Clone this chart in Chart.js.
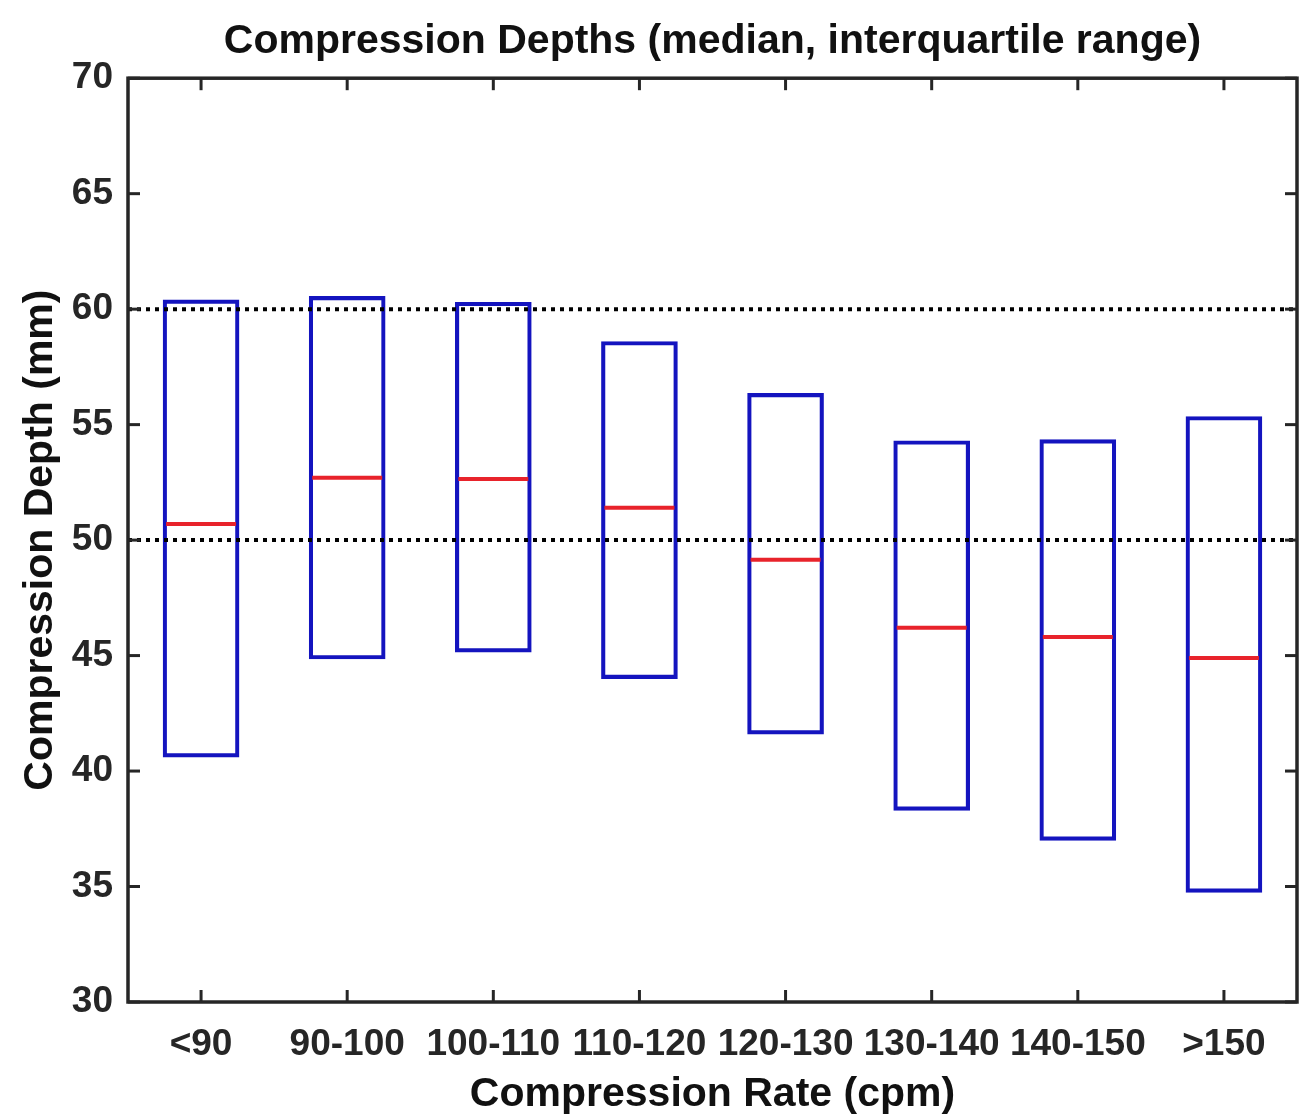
<!DOCTYPE html>
<html>
<head>
<meta charset="utf-8">
<script src="https://cdn.jsdelivr.net/npm/chart.js@4.4.0/dist/chart.umd.min.js"></script>
<style>
  html, body { margin: 0; padding: 0; background: #fff; }
  #caixa { width: 1305px; height: 1115px; }
</style>
</head>
<body>
<div id="caixa"><canvas id="graficoBox"></canvas></div>
<script>
// Dados
const categorias = ['<90', '90-100', '100-110', '110-120', '120-130', '130-140', '140-150', '>150'];
const quartil1 = [40.6, 44.85, 45.15, 44.0, 41.6, 38.3, 37.0, 34.75];
const quartil3 = [60.4, 60.55, 60.3, 58.6, 56.35, 54.3, 54.35, 55.35];
const medianas = [50.7, 52.7, 52.65, 51.4, 49.15, 46.2, 45.8, 44.9];
const linhasRef = [50, 60];
const eixoY = { min: 30, max: 70, passo: 5 };

const corEixo = '#262626';

// moldura estilo MATLAB: caixa fechada, ticks para dentro e linhas pontilhadas
const molduraMatlab = {
    id: 'molduraMatlab',
    afterDatasetsDraw(chart) {
        const { ctx, chartArea: a, scales: { x, y } } = chart;
        const linha = (x1, y1, x2, y2) => {
            ctx.beginPath();
            ctx.moveTo(x1, y1);
            ctx.lineTo(x2, y2);
            ctx.stroke();
        };
        ctx.save();

        ctx.strokeStyle = '#000';
        ctx.lineWidth = 4;
        ctx.setLineDash([4, 5]);
        linhasRef.forEach(v => {
            const py = y.getPixelForValue(v);
            linha(a.left, py, a.right, py);
        });
        ctx.setLineDash([]);

        ctx.strokeStyle = corEixo;
        ctx.lineWidth = 3;
        y.ticks.forEach((t, i) => {
            const py = y.getPixelForTick(i);
            linha(a.left, py, a.left + 12, py);
            linha(a.right, py, a.right - 12, py);
        });
        x.ticks.forEach((t, i) => {
            const px = x.getPixelForTick(i);
            linha(px, a.bottom, px, a.bottom - 12);
            linha(px, a.top, px, a.top + 12);
        });

        ctx.lineWidth = 3.5;
        ctx.strokeRect(a.left, a.top, a.right - a.left, a.bottom - a.top);
        ctx.restore();
    }
};

const ctxBox = document.getElementById('graficoBox');

new Chart(ctxBox, {
    type: 'bar',
    data: {
        labels: categorias,
        datasets: [
            {
                type: 'line',
                label: 'Mediana',
                data: medianas,
                showLine: false,
                pointStyle: 'line',
                pointRadius: 35,
                pointHoverRadius: 35,
                pointBorderWidth: 4,
                pointBorderColor: '#e8232b',
                borderColor: '#e8232b'
            },
            {
                label: 'IQR',
                data: quartil1.map((q, i) => [q, quartil3[i]]),
                backgroundColor: 'transparent',
                borderColor: '#1414bf',
                borderWidth: 3.5,
                borderSkipped: false,
                barThickness: 76
            }
        ]
    },
    options: {
        responsive: true,
        maintainAspectRatio: false,
        animation: false,
        events: [],
        // sem autoPadding, senão o raio dos pontos empurra a borda direita
        layout: { autoPadding: false, padding: { left: 0, right: 8, top: 0, bottom: 0 } },
        plugins: {
            legend: { display: false },
            tooltip: { enabled: false },
            title: {
                display: true,
                text: 'Compression Depths (median, interquartile range)',
                fullSize: false,
                color: '#111',
                font: { family: 'Liberation Sans', size: 41, weight: 'bold', lineHeight: 1.2 },
                padding: { top: 17, bottom: 12 }
            }
        },
        scales: {
            x: {
                type: 'category',
                offset: true,
                grid: { display: false, drawTicks: false },
                border: { display: false },
                ticks: {
                    color: corEixo,
                    padding: 21,
                    maxRotation: 0,
                    autoSkip: false,
                    font: { family: 'Liberation Sans', size: 37, weight: 'bold' }
                },
                title: {
                    display: true,
                    text: 'Compression Rate (cpm)',
                    color: '#111',
                    font: { family: 'Liberation Sans', size: 41, weight: 'bold', lineHeight: 1 },
                    padding: { top: 0, bottom: 0 }
                },
                afterFit: s => {
                    s.height = 113;
                    s.paddingLeft = 0;
                    s.paddingRight = 0;
                }
            },
            y: {
                min: eixoY.min,
                max: eixoY.max,
                grid: { display: false, drawTicks: false },
                border: { display: false },
                ticks: {
                    stepSize: eixoY.passo,
                    color: corEixo,
                    padding: 15,
                    font: { family: 'Liberation Sans', size: 37, weight: 'bold' }
                },
                title: {
                    display: true,
                    text: 'Compression Depth (mm)',
                    color: '#111',
                    font: { family: 'Liberation Sans', size: 41, weight: 'bold', lineHeight: 1 },
                    padding: { top: 20, bottom: 0 }
                },
                afterFit: s => {
                    s.width = 128;
                    s.paddingTop = 0;
                    s.paddingBottom = 0;
                }
            }
        }
    },
    plugins: [molduraMatlab]
});
</script>
</body>
</html>
